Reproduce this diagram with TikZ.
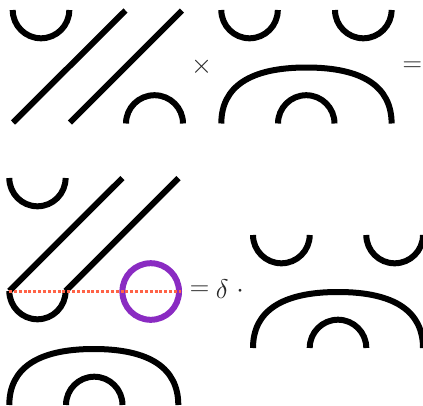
\RequirePackage{fix-cm}
\documentclass[tikz,border=0pt]{standalone}
\DeclareMathSizes{27}{27}{19}{14}
\tikzset{
  strand/.style={line width=6pt,black,line cap=butt},
  ring/.style={line width=6pt,draw=loopviolet},
  cutline/.style={line width=3pt,draw=cuttomato,dash pattern=on 3pt off 1.85pt},
  sym/.style={inner sep=0pt,font=\fontsize{27}{30}\selectfont,text=black!85}
}
\definecolor{loopviolet}{HTML}{8A2BC2}
\definecolor{cuttomato}{HTML}{FF6347}
\newcommand{\cupat}[3]{\draw[strand] (#1,#3) arc[start angle=180,end angle=360,x radius={(#2-#1)/2},y radius=-28.3];}
\newcommand{\capat}[3]{\draw[strand] (#1,#3) arc[start angle=180,end angle=0,x radius={(#2-#1)/2},y radius=-28.3];}
\newcommand{\domeat}[3]{%
  \pgfmathsetmacro{\domemid}{(#1+#2)/2}%
  \pgfmathsetmacro{\domerad}{(#2-#1)/2}%
  \draw[strand] (#1,#3)
    .. controls (#1,#3-0.66*56) and (\domemid-0.66*\domerad,#3-56) .. (\domemid,#3-56)
    .. controls (\domemid+0.66*\domerad,#3-56) and (#2,#3-0.66*56) .. (#2,#3);}
\begin{document}
\begin{tikzpicture}[x=1pt,y=-1pt]
\useasboundingbox (0,0) rectangle (423,405);
\clip (0,0) rectangle (423,405);
% top left factor
\cupat{12.7}{69.3}{10}
\draw[strand] (13,122.5) -- (125.5,10.5);
\draw[strand] (70,122.5) -- (182,10.5);
\capat{126}{183}{123.5}
% top right factor
\cupat{221.3}{277.8}{10}
\cupat{335}{391.6}{10}
\domeat{221.3}{391.6}{123.5}
\capat{278}{334.5}{123.5}
\node[sym] (times) at (201.7,66.5) {$\times$};
\node[sym] (eqtop) at (412.3,66.5) {$=$};
% lower left
\cupat{9.3}{65.6}{178}
\draw[strand] (9.3,291) -- (122.5,178);
\draw[strand] (65.6,291) -- (178.5,178);
\cupat{9.3}{65.6}{291}
\draw[ring] (150.7,291.5) circle[radius=28.3];
\draw[cutline] (9,291.5) -- (181,291.5);
\domeat{9.3}{178.3}{405}
\capat{66}{122.5}{405}
\node[sym] (eqlow) at (199.5,291) {$=$};
\node[sym] (delta) at (222.3,288.7) {$\delta$};
\node[sym] (dot) at (240,291) {$\cdot$};
% lower right
\cupat{253}{309.7}{235}
\cupat{366.3}{423}{235}
\domeat{253}{423}{348}
\capat{309.7}{366.3}{348}
\end{tikzpicture}
\end{document}
